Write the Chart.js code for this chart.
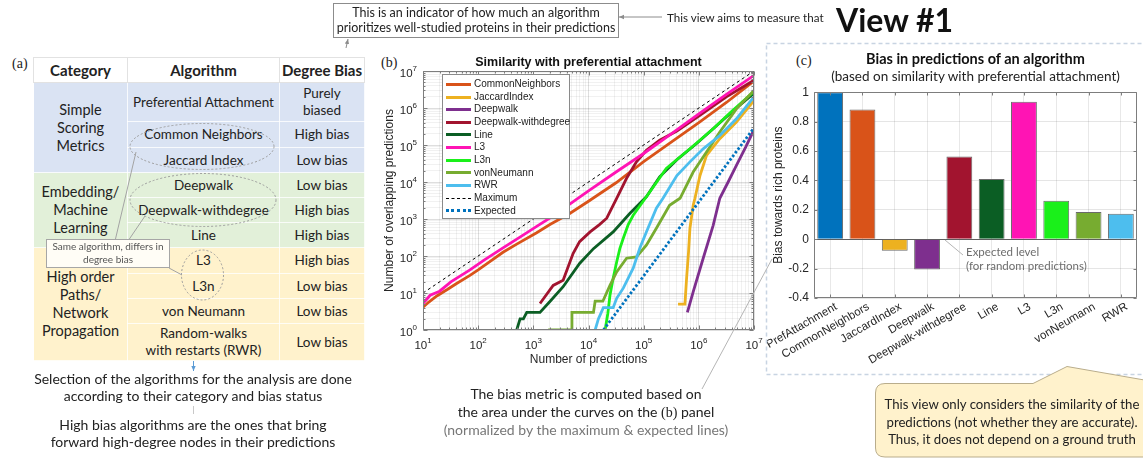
<!DOCTYPE html>
<html lang="en">
<head>
<meta charset="UTF-8">
<title>Degree bias of link prediction algorithms</title>
<script src="https://cdn.jsdelivr.net/npm/chart.js"></script>
<style>
  body { margin: 0; background: #fff; font-family: Lato, sans-serif; color: #222; }
  #page { position: relative; width: 1143px; height: 458px; overflow: hidden; }
  .abs { position: absolute; }
  .tag { position: absolute; font-family: "Liberation Serif", serif; font-size: 14px; color: #222; }
  .note { position: absolute; text-align: center; font-size: 14px; line-height: 17px; }

  /* panel (a) table */
  #algTable { position: absolute; left: 33px; top: 57px; width: 331px; border-collapse: collapse; table-layout: fixed; font-size: 13.5px; }
  #algTable td, #algTable th { padding: 0; text-align: center; vertical-align: middle; line-height: 17px; border: 1px solid rgba(255,255,255,0.8); }
  #algTable th { background: #fff; border: 1px solid #e2e2e2; font-size: 15px; font-weight: 700; }
  #algTable .cat { font-size: 14.5px; line-height: 18px; }
  .blue td { background: #dae3f3; }
  .green td { background: #e2f0d9; }
  .yellow td { background: #fff2cc; }

  #topBox { left: 333px; top: 3px; width: 284px; height: 31px; border: 1px solid #8c8c8c; font-size: 12.5px; line-height: 14.5px; padding-top: 2px; box-sizing: content-box; white-space: nowrap; }
  #sameAlg { left: 47px; top: 240px; width: 122px; font-size: 10px; line-height: 12.5px; color: #555; }

  .chartTitle { position: absolute; text-align: center; font-family: "Liberation Sans", Arial, sans-serif; font-weight: 700; font-size: 12.5px; color: #111; }

  #overlapLegend { position: absolute; left: 442px; top: 74px; width: 126px; height: 140px; background: #fff; border: 1px solid #8a8a8a; padding-top: 3px;
    font-family: "Liberation Sans", Arial, sans-serif; font-size: 10px; color: #222; }
  .lg-row { height: 12.67px; line-height: 12.67px; white-space: nowrap; }
  .lg-swatch { display: inline-block; width: 25px; height: 0; margin: 0 3px 0 3px; vertical-align: middle; }
</style>
</head>
<body>
<div id="page">

  <div class="tag" style="left:12px; top:56px;">(a)</div>
  <div class="tag" style="left:381px; top:55px;">(b)</div>
  <div class="tag" style="left:796px; top:53px;">(c)</div>

  <table id="algTable">
    <colgroup><col style="width:94px"><col style="width:152px"><col style="width:85px"></colgroup>
    <tr style="height:25px"><th>Category</th><th>Algorithm</th><th>Degree Bias</th></tr>
    <tr class="blue" style="height:39px"><td rowspan="3" class="cat">Simple<br>Scoring<br>Metrics</td><td>Preferential Attachment</td><td>Purely<br>biased</td></tr>
    <tr class="blue" style="height:26px"><td>Common Neighbors</td><td>High bias</td></tr>
    <tr class="blue" style="height:25px"><td>Jaccard Index</td><td>Low bias</td></tr>
    <tr class="green" style="height:25px"><td rowspan="3" class="cat">Embedding/<br>Machine<br>Learning</td><td>Deepwalk</td><td>Low bias</td></tr>
    <tr class="green" style="height:25px"><td>Deepwalk-withdegree</td><td>High bias</td></tr>
    <tr class="green" style="height:25px"><td>Line</td><td>High bias</td></tr>
    <tr class="yellow" style="height:26px"><td rowspan="4" class="cat">High order<br>Paths/<br>Network<br>Propagation</td><td>L3</td><td>High bias</td></tr>
    <tr class="yellow" style="height:25px"><td>L3n</td><td>Low bias</td></tr>
    <tr class="yellow" style="height:25px"><td>von Neumann</td><td>Low bias</td></tr>
    <tr class="yellow" style="height:37px"><td>Random-walks<br>with restarts (RWR)</td><td>Low bias</td></tr>
  </table>

  <canvas id="biasChart" class="abs" width="378" height="293" style="left:765px; top:80px;"></canvas>
  <canvas id="overlapChart" class="abs" width="395" height="340" style="left:370px; top:40px;"></canvas>

  <svg class="abs" style="left:0; top:0;" width="1143" height="458">
    <defs>
      <marker id="headGray" markerWidth="6" markerHeight="6" refX="5" refY="3" orient="auto">
        <path d="M0,0.8 L5,3 L0,5.2 Z" fill="#8c8c8c"/>
      </marker>
      <marker id="headBlue" markerWidth="6" markerHeight="6" refX="5" refY="3" orient="auto">
        <path d="M0,0.8 L5,3 L0,5.2 Z" fill="#5b9bd5"/>
      </marker>
    </defs>
    <!-- ellipses grouping algorithm pairs -->
    <g fill="none" stroke="#9c9c9c" stroke-width="1" stroke-dasharray="2 2">
      <ellipse cx="202" cy="146.5" rx="72" ry="23"/>
      <ellipse cx="203" cy="200" rx="73" ry="26.5"/>
      <ellipse cx="202.5" cy="275" rx="21" ry="25"/>
    </g>
    <g stroke="#a3a3a3" stroke-width="1">
      <line x1="115" y1="241" x2="136" y2="152"/>
      <line x1="128" y1="241" x2="145" y2="216"/>
      <line x1="169" y1="268" x2="182" y2="275"/>
    </g>
    <rect x="46.5" y="239.5" width="123" height="28" fill="#fffdf6" stroke="#a6a6a6"/>

    <!-- connectors around the top note -->
    <line x1="662" y1="17" x2="619" y2="17" stroke="#8c8c8c" marker-end="url(#headGray)"/>
    <line x1="346" y1="48" x2="348" y2="39" stroke="#8c8c8c" marker-end="url(#headGray)"/>

    <!-- connectors below the table -->
    <line x1="193.5" y1="361" x2="193.5" y2="371" stroke="#5b9bd5" marker-end="url(#headBlue)"/>
    <line x1="193.5" y1="406" x2="193.5" y2="414" stroke="#c8c8c8"/>

    <!-- frame around panel (c) -->
    <rect x="766.5" y="43.5" width="400" height="331" fill="none" stroke="#c8d4e2" stroke-width="1.5" stroke-dasharray="4 3"/>
    <line x1="702" y1="389" x2="772" y2="259" stroke="#b5b5b5"/>
    <line x1="945" y1="240" x2="963" y2="255" stroke="#b5b5b5"/>

    <!-- callout -->
    <path d="M885,383.5 H1033 L1067,366.5 L1150,381 V457 H885 Q875.5,457 875.5,448 V393 Q875.5,383.5 885,383.5 Z"
          fill="#fff2cc" stroke="#b9ad8c" stroke-width="1"/>
  </svg>

  <div id="topBox" class="note">This is an indicator of how much an algorithm<br>prioritizes well-studied proteins in their predictions</div>
  <div class="note" style="left:667px; top:9px; font-size:11.6px; text-align:left; white-space:nowrap;">This view aims to measure that</div>
  <div class="abs" style="left:836px; top:1px; font-size:32px; line-height:37px; font-weight:700; color:#111; white-space:nowrap;">View #1</div>

  <div id="sameAlg" class="note">Same algorithm, differs in<br>degree bias</div>

  <div class="note" style="left:20px; top:370px; width:346px;">Selection of the algorithms for the analysis are done<br>according to their category and bias status</div>
  <div class="note" style="left:20px; top:416px; width:346px;">High bias algorithms are the ones that bring<br>forward high-degree nodes in their predictions</div>

  <div class="note" style="left:426px; top:385px; width:320px; line-height:17.5px;">The bias metric is computed based on<br>the area under the curves on the <span style="font-family:'Liberation Serif',serif;">(b)</span> panel<br><span style="color:#777;">(normalized by the maximum &amp; expected lines)</span></div>

  <div class="note" style="left:872px; top:396px; width:280px; font-size:13.2px; line-height:17.5px; white-space:nowrap;">This view only considers the similarity of the<br>predictions (not whether they are accurate).<br>Thus, it does not depend on a ground truth</div>

  <div class="chartTitle" style="left:423px; top:55px; width:331px;">Similarity with preferential attachment</div>
  <div class="abs" style="left:814px; top:50px; width:323px; text-align:center; font-size:14.5px; font-weight:700; color:#111;">Bias in predictions of an algorithm</div>
  <div class="abs" style="left:814px; top:68px; width:323px; text-align:center; font-size:13.5px; color:#222; white-space:nowrap;">(based on similarity with preferential attachment)</div>

  <div class="note" style="left:966px; top:245px; text-align:left; font-size:11.5px; line-height:14px; color:#6d6d6d; white-space:nowrap;">Expected level<br>(for random predictions)</div>

  <div id="overlapLegend"></div>
</div>

<script>
    // ---- panel (b): overlapping predictions with preferential attachment, [predictions, overlap]
    const seriesNames = ['CommonNeighbors', 'JaccardIndex', 'Deepwalk', 'Deepwalk-withdegree', 'Line',
                         'L3', 'L3n', 'vonNeumann', 'RWR', 'Maximum', 'Expected'];
    const seriesColors = ['#D95319', '#EDB120', '#7E2F8E', '#A2142F', '#0B5E24',
                          '#FF14B4', '#1AF01A', '#77AC30', '#4DBEEE', '#000000', '#0072BD'];

    const commonNeighbors = [[10, 4.1], [12.6, 5.6], [17.8, 8.3], [28, 12.6], [40, 17.8], [71, 30], [100, 42],
        [158, 68], [282, 126], [500, 209], [1150, 427], [2000, 708], [4570, 1410], [1e4, 3020], [3.16e4, 9550],
        [1e5, 3.55e4], [3.16e5, 1.2e5], [1e6, 4e5], [3.16e6, 1.41e6], [1e7, 5.4e6]];
    const jaccardIndex = [[4.2e5, 5], [5.6e5, 5], [6e5, 25], [6.5e5, 126], [6.9e5, 562], [7.9e5, 2340],
        [8.5e5, 3630], [1.05e6, 1.5e4], [1.38e6, 5.25e4], [2.4e6, 1.48e5], [4.8e6, 4.2e5], [1e7, 1.6e6]];
    const deepwalk = [[6.2e5, 3], [7.9e5, 10.7], [1.2e6, 87], [1.82e6, 676], [2.4e6, 3630], [3.4e6, 1e4],
        [4.8e6, 2.8e4], [7.1e6, 8.9e4], [1e7, 2.6e5]];
    const deepwalkWithDegree = [[1320, 5.2], [2290, 16], [3470, 22], [5250, 117], [6900, 245], [1.07e4, 447],
        [1.58e4, 708], [2.14e4, 1050], [3.24e4, 3630], [4.9e4, 1.26e4], [7.4e4, 3.5e4], [1.12e5, 7.2e4],
        [1.95e5, 1.35e5], [4e5, 2.4e5], [1e6, 6e5], [3.16e6, 2e6], [1e7, 5.6e6]];
    const lineEmbedding = [[500, 1], [575, 2], [660, 2], [760, 3], [1320, 3], [2000, 5.9], [3470, 14.8],
        [6900, 63], [1.23e4, 158], [2.8e4, 447], [5.6e4, 1410], [1.12e5, 3980], [1.95e5, 1.38e4], [4e5, 4e4],
        [9.1e5, 1.1e5], [1.82e6, 2.75e5], [4e6, 7.9e5], [1e7, 2.5e6]];
    const l3 = [[10, 5.2], [13.5, 8.7], [20, 11.2], [32, 20], [71, 42], [126, 76], [282, 166], [631, 355],
        [1150, 631], [2510, 1320], [4570, 2510], [1e4, 5750], [3.16e4, 1.86e4], [1e5, 5.9e4], [3.16e5, 2e5],
        [1e6, 6.9e5], [3.16e6, 2.34e6], [1e7, 7.6e6]];
    const l3n = [[2e4, 1], [2.24e4, 2.8], [2.45e4, 8.7], [2.8e4, 25], [3.24e4, 69], [3.7e4, 158], [4.27e4, 302],
        [5.25e4, 708], [6.46e4, 1260], [1.12e5, 4000], [2.57e5, 2.34e4], [6.9e5, 7.9e4], [1.82e6, 2.75e5],
        [4e6, 8.3e5], [1e7, 2.8e6]];
    const vonNeumann = [[1860, 1], [4900, 1], [5010, 3], [1.23e4, 3], [1.32e4, 6], [1.82e4, 6], [2.45e4, 16],
        [3.24e4, 37], [4.9e4, 87], [7.4e4, 95], [1.12e5, 195], [1.7e5, 562], [2.95e5, 2340], [4.57e5, 3630],
        [7.9e5, 1.86e4], [1.38e6, 6.5e4], [2.4e6, 2.24e5], [4.8e6, 9.5e5], [1e7, 3e6]];
    const rwr = [[1.32e4, 1], [1.51e4, 2], [1.86e4, 4], [2.8e4, 4], [3.24e4, 7.2], [4.27e4, 13.5], [6.46e4, 47],
        [8.5e4, 162], [1.12e5, 447], [1.7e5, 1950], [2.24e5, 3630], [4e5, 1.5e4], [6.9e5, 3.5e4], [1.2e6, 7.9e4],
        [2.4e6, 1.8e5], [4.8e6, 5.1e5], [1e7, 2e6]];
    const maximum = [[10, 10], [1e7, 1e7]];
    const expected = [[1.86e4, 1], [1e5, 29], [1e6, 2900], [1e7, 2.9e5]];

    const overlapSeries = [commonNeighbors, jaccardIndex, deepwalk, deepwalkWithDegree, lineEmbedding,
                           l3, l3n, vonNeumann, rwr, maximum, expected];
    const xDecades = [1, 2, 3, 4, 5, 6, 7];
    const yDecades = [0, 1, 2, 3, 4, 5, 6, 7];

    // ---- panel (c): bias towards rich proteins
    const biasAlgorithms = ['PrefAttachment', 'CommonNeighbors', 'JaccardIndex', 'Deepwalk', 'Deepwalk-withdegree',
                            'Line', 'L3', 'L3n', 'vonNeumann', 'RWR'];
    const biasScores = [1.0, 0.883, -0.078, -0.206, 0.562, 0.409, 0.935, 0.261, 0.185, 0.173];
    const biasTicks = [-0.4, -0.2, 0, 0.2, 0.4, 0.6, 0.8, 1];
    const biasColors = ['#0072BD', '#D95319', '#EDB120', '#7E2F8E', '#A2142F',
                        '#0B5E24', '#FF14B4', '#1AF01A', '#77AC30', '#4DBEEE'];

    const axisFont = '"Liberation Sans", Arial, sans-serif';
    Chart.defaults.font.family = axisFont;
    Chart.defaults.color = '#262626';

    function isDecade(v) {
        const e = Math.log10(v);
        return Math.abs(e - Math.round(e)) < 1e-6;
    }

    // every 1..9 x 10^k between lo and hi, for the log grid
    function logGrid(lo, hi) {
        const out = [];
        for (let d = lo; d < hi; d *= 10) {
            for (let m = 1; m < 10; m++) out.push({ value: d * m });
        }
        out.push({ value: hi });
        return out;
    }

    // box around the plot area, with small inward tick marks like matlab axes
    const axesBox = {
        id: 'axesBox',
        afterDatasetsDraw(chart, args, opts) {
            const { ctx, chartArea: a, scales } = chart;
            const L = Math.round(a.left) + 0.5, R = Math.round(a.right) - 0.5;
            const T = Math.round(a.top) + 0.5, B = Math.round(a.bottom) - 0.5;
            ctx.save();
            ctx.strokeStyle = opts.color;
            ctx.lineWidth = 1;
            ctx.beginPath();
            scales.x.ticks.forEach((t, i) => {
                const px = Math.round(scales.x.getPixelForTick(i)) + 0.5;
                const len = opts.tickLen(t.value);
                ctx.moveTo(px, B); ctx.lineTo(px, B - len);
                ctx.moveTo(px, T); ctx.lineTo(px, T + len);
            });
            scales.y.ticks.forEach((t, i) => {
                const py = Math.round(scales.y.getPixelForTick(i)) + 0.5;
                const len = opts.tickLen(t.value);
                ctx.moveTo(L, py); ctx.lineTo(L + len, py);
                ctx.moveTo(R, py); ctx.lineTo(R - len, py);
            });
            ctx.rect(L, T, R - L, B - T);
            ctx.stroke();
            ctx.restore();
        }
    };

    // "10" with a raised exponent for the decade ticks
    const powerLabels = {
        id: 'powerLabels',
        afterDraw(chart) {
            const { ctx, chartArea: a, scales } = chart;
            const baseFont = '11.5px ' + axisFont, expFont = '8px ' + axisFont;
            ctx.save();
            ctx.fillStyle = '#262626';
            ctx.textBaseline = 'alphabetic';
            ctx.textAlign = 'left';
            xDecades.forEach(e => {
                const px = scales.x.getPixelForValue(Math.pow(10, e));
                ctx.font = baseFont; const wb = ctx.measureText('10').width;
                ctx.font = expFont; const we = ctx.measureText(String(e)).width;
                const x0 = px - (wb + we) / 2;
                ctx.font = baseFont; ctx.fillText('10', x0, a.bottom + 19);
                ctx.font = expFont; ctx.fillText(String(e), x0 + wb, a.bottom + 13);
            });
            yDecades.forEach(e => {
                const py = scales.y.getPixelForValue(Math.pow(10, e));
                ctx.font = baseFont; const wb = ctx.measureText('10').width;
                ctx.font = expFont; const we = ctx.measureText(String(e)).width;
                const x0 = a.left - 6 - we - wb;
                ctx.font = baseFont; ctx.fillText('10', x0, py + 6);
                ctx.font = expFont; ctx.fillText(String(e), x0 + wb, py);
            });
            ctx.restore();
        }
    };

    const overlapChart = new Chart(document.getElementById('overlapChart'), {
        type: 'line',
        data: {
            datasets: overlapSeries.map((pts, i) => ({
                label: seriesNames[i],
                data: pts.map(([x, y]) => ({ x, y })),
                borderColor: seriesColors[i],
                borderWidth: i === 9 ? 1 : 2.8,
                borderDash: i === 9 ? [3, 3] : (i === 10 ? [2.5, 2] : []),
                borderCapStyle: 'butt',
                pointRadius: 0,
                tension: 0,
                fill: false,
                order: overlapSeries.length - i
            }))
        },
        options: {
            responsive: false,
            animation: false,
            events: [],
            layout: { padding: { left: 0, right: 11, top: 31, bottom: 0 } },
            plugins: {
                legend: { display: false },
                tooltip: { enabled: false },
                axesBox: { color: '#7d7d7d', tickLen: v => isDecade(v) ? 4 : 2 }
            },
            scales: {
                x: {
                    type: 'logarithmic', min: 10, max: 1e7,
                    afterBuildTicks: s => { s.ticks = logGrid(10, 1e7); },
                    afterFit: s => { s.height = 50; s.paddingLeft = 0; s.paddingRight = 0; },
                    ticks: { callback: () => '', autoSkip: false, maxRotation: 0 },
                    grid: { drawTicks: false, color: c => isDecade(c.tick.value) ? 'rgba(0,0,0,0.13)' : 'rgba(0,0,0,0.055)' },
                    border: { display: false },
                    title: { display: true, text: 'Number of predictions', font: { size: 12 }, padding: { top: 0, bottom: 13 } }
                },
                y: {
                    type: 'logarithmic', min: 1, max: 1e7,
                    afterBuildTicks: s => { s.ticks = logGrid(1, 1e7); },
                    afterFit: s => { s.width = 53; },
                    ticks: { callback: () => '', autoSkip: false },
                    grid: { drawTicks: false, color: c => isDecade(c.tick.value) ? 'rgba(0,0,0,0.13)' : 'rgba(0,0,0,0.055)' },
                    border: { display: false },
                    title: { display: true, text: 'Number of overlapping predictions', font: { size: 12 }, padding: { top: 12, bottom: 0 } }
                }
            }
        },
        plugins: [axesBox, powerLabels]
    });

    // legend drawn inside the plot, from the chart's own datasets
    const legendBox = document.getElementById('overlapLegend');
    overlapChart.data.datasets.forEach(ds => {
        const row = document.createElement('div');
        row.className = 'lg-row';
        const sw = document.createElement('span');
        sw.className = 'lg-swatch';
        const style = ds.borderDash.length ? (ds.borderWidth > 2 ? 'dotted' : 'dashed') : 'solid';
        sw.style.borderTop = Math.round(ds.borderWidth) + 'px ' + style + ' ' + ds.borderColor;
        row.appendChild(sw);
        row.appendChild(document.createTextNode(ds.label));
        legendBox.appendChild(row);
    });

    new Chart(document.getElementById('biasChart'), {
        type: 'bar',
        data: {
            labels: biasAlgorithms,
            datasets: [{
                data: biasScores,
                backgroundColor: biasColors,
                borderColor: '#6a6a6a',
                borderWidth: 1,
                barPercentage: 0.8,
                categoryPercentage: 1
            }]
        },
        options: {
            responsive: false,
            animation: false,
            events: [],
            layout: { padding: { left: 0, right: 6, top: 9, bottom: 0 } },
            plugins: {
                legend: { display: false },
                tooltip: { enabled: false },
                axesBox: { color: '#7d7d7d', tickLen: () => 3 }
            },
            scales: {
                x: {
                    afterFit: s => { s.height = 75; s.paddingLeft = 0; s.paddingRight = 0; },
                    ticks: { autoSkip: false, maxRotation: 30, minRotation: 30, padding: 2, labelOffset: 6, font: { size: 11.5 } },
                    grid: { offset: false, drawTicks: false, color: 'rgba(0,0,0,0.09)' },
                    border: { display: false }
                },
                y: {
                    min: -0.4, max: 1,
                    afterBuildTicks: s => { s.ticks = biasTicks.map(v => ({ value: v })); },
                    afterFit: s => { s.width = 49; },
                    ticks: { callback: v => String(Math.round(v * 10) / 10), padding: 5, font: { size: 12 } },
                    grid: { drawTicks: false, color: c => c.tick.value === 0 ? '#5e5e5e' : 'rgba(0,0,0,0.1)' },
                    border: { display: false },
                    title: { display: true, text: 'Bias towards rich proteins', font: { size: 12 }, padding: { top: 6, bottom: 0 } }
                }
            }
        },
        plugins: [axesBox]
    });
</script>
</body>
</html>
